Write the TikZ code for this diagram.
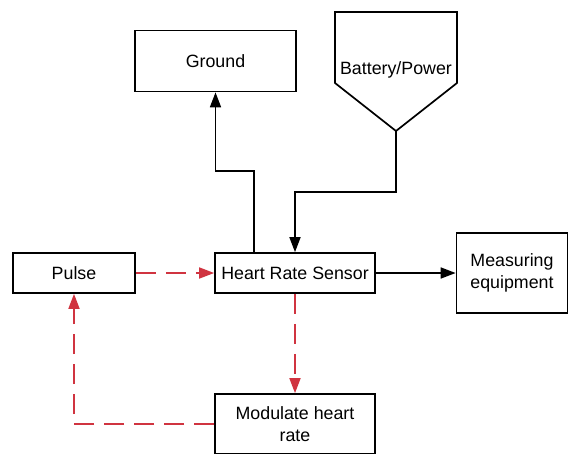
\documentclass[tikz,border=0pt]{standalone}
\usepackage{fontspec}
\setmainfont{Liberation Sans}
\usetikzlibrary{arrows.meta,positioning,calc}
\definecolor{loop-red}{RGB}{208,52,64}

\begin{document}
\begin{tikzpicture}[x=1pt, y=-1pt, >={Triangle[length=15pt,width=11pt]},
	   font=\fontsize{17.8}{22}\selectfont, line width=1.7pt,
	   blk/.style={draw, rectangle, inner sep=0pt, align=center, fill=white},
	   fb/.style={->, loop-red, dash pattern=on 20pt off 10pt}]
	  \useasboundingbox (0,0) rectangle (568,453);
	  \clip (0,0) rectangle (568,453);
	  \node[blk, minimum width=161pt, minimum height=61pt] (G) at (215.5,61) {Ground};
	  \draw (335,12) -- (457,12) -- (457,83) -- (396,131) -- (335,83) -- cycle;
	  \node (B) at (396,70) {Battery/Power};
	  \coordinate (Btip) at (396,131);
	  \node[blk, minimum width=122pt, minimum height=40pt] (P) at (74,273) {Pulse};
	  \node[blk, minimum width=160pt, minimum height=40pt] (H) at (295,273) {Heart Rate Sensor};
	  \node[blk, minimum width=111pt, minimum height=80pt] (M) at (512,273) {Measuring\\ equipment};
	  \node[blk, minimum width=160pt, minimum height=60pt] (D) at (295,424) {Modulate heart\\ rate};
	  \draw[->] ([xshift=-41pt]H.north) -- ++(0,-81) -| (G.south);
	  \draw[->] (Btip) -- ++(0,61) -| (H.north);
	  \draw[->] (H) -- (M);
	  \draw[fb] (P) -- (H);
	  \draw[fb] (H) -- (D);
	  \draw[fb] (D.west) -| (P.south);
	\end{tikzpicture}
\end{document}
